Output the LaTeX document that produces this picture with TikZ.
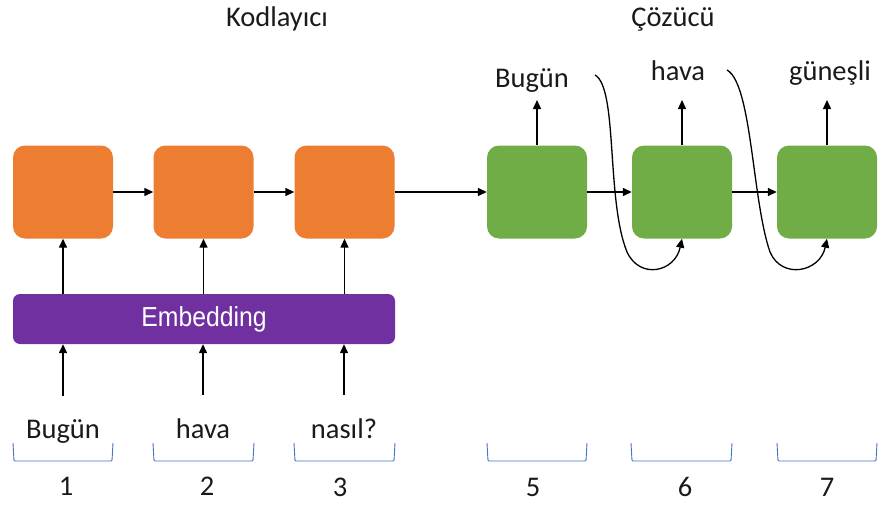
\documentclass[tikz,border=0pt]{standalone}
\usepackage{fontspec}
\setmainfont{Carlito}
\newfontfamily\embfont{Liberation Sans}
\usetikzlibrary{arrows.meta}
\definecolor{encor}{HTML}{ED7D31}
\definecolor{decgr}{HTML}{70AD47}
\definecolor{embpu}{HTML}{7030A0}
\definecolor{brblue}{HTML}{4472C4}
\definecolor{txtdark}{HTML}{1A1A1A}
\begin{document}
\begin{tikzpicture}[x=1pt,y=-1pt,
  enc/.style={fill=encor,draw=none,rounded corners=12pt,minimum width=100pt,minimum height=93pt,inner sep=0pt},
  dec/.style={fill=decgr,draw=none,rounded corners=12pt,minimum width=100pt,minimum height=93pt,inner sep=0pt},
  word/.style={font=\fontsize{28.5}{30}\selectfont,text=txtdark,anchor=base,inner sep=1pt},
  arr/.style={draw=black,line width=1.4pt,-{Triangle[length=9pt,width=8pt]}},
  curv/.style={draw=black,line width=1.3pt,-{Triangle[length=9pt,width=8pt]}},
  brace/.style={draw=brblue,line width=0.9pt,rounded corners=1pt}]
\useasboundingbox (0,0) rectangle (886,506);
% titles
\node[word] (t1) at (277,27) {Kodlayıcı};
\node[word] (t2) at (673,27) {Çözücü};
% encoder boxes
\node[enc] (b1) at (63,192) {};
\node[enc] (b2) at (203.5,192) {};
\node[enc] (b3) at (344.5,192) {};
% decoder boxes
\node[dec] (b5) at (537,192) {};
\node[dec] (b6) at (682,192) {};
\node[dec] (b7) at (827,192) {};
% embedding
\node[fill=embpu,rounded corners=7pt,minimum width=382pt,minimum height=50pt,inner sep=0pt,
  text=white,font=\embfont\fontsize{27.5}{29}\selectfont] (emb) at (204,319) {\scalebox{0.9}[1]{Embedding}};
% input words
\node[word] (w1) at (63,438) {Bugün};
\node[word] (w2) at (203,438) {hava};
\node[word] (w3) at (344,438) {nasıl?};
% output words
\node[word] (o5) at (532,87) {Bugün};
\node[word] (o6) at (678,80) {hava};
\node[word] (o7) at (830,80) {güneşli};
% numbers
\node[word] (n1) at (66,495) {1};
\node[word] (n2) at (207,495) {2};
\node[word] (n3) at (340,496) {3};
\node[word] (n5) at (533,496) {5};
\node[word] (n6) at (685,496) {6};
\node[word] (n7) at (827,496) {7};
% horizontal arrows
\draw[arr] (b1.east) -- (b2.west);
\draw[arr] (b2.east) -- (b3.west);
\draw[arr] (b3.east) -- (b5.west);
\draw[arr] (b5.east) -- (b6.west);
\draw[arr] (b6.east) -- (b7.west);
% embedding to encoder
\draw[arr] (emb.north -| b1) -- (b1.south);
\draw[arr] (emb.north -| b2) -- (b2.south);
\draw[arr] (emb.north -| b3) -- (b3.south);
% words to embedding
\draw[arr,shorten <=22pt] (w1.north) -- (emb.south -| w1);
\draw[arr,shorten <=22pt] (w2.north) -- (emb.south -| w2);
\draw[arr,shorten <=22pt] (w3.north) -- (emb.south -| w3);
% outputs
\draw[arr] (b5.north) -- (537,100) coordinate (u5);
\draw[arr] (b6.north) -- (682,100) coordinate (u6);
\draw[arr] (b7.north) -- (827,100) coordinate (u7);
% feedback curves
\coordinate (c5) at (595,75);
\coordinate (c6) at (727,70);
\draw[curv] (c5) .. controls (618,88) and (606,200) .. (627,252)
  .. controls (640,280) and (675,272) .. (b6.south);
\draw[curv] (c6) .. controls (752,84) and (752,200) .. (770,252)
  .. controls (782,280) and (820,272) .. (b7.south);
% braces
\foreach \xa/\xb in {13/113,153/254,294/395,487/587,631/732,777/877}{
  \draw[brace] (\xa,443) -- (\xa+1,461) -- (\xb-1,461) -- (\xb,443);
}
\end{tikzpicture}
\end{document}
